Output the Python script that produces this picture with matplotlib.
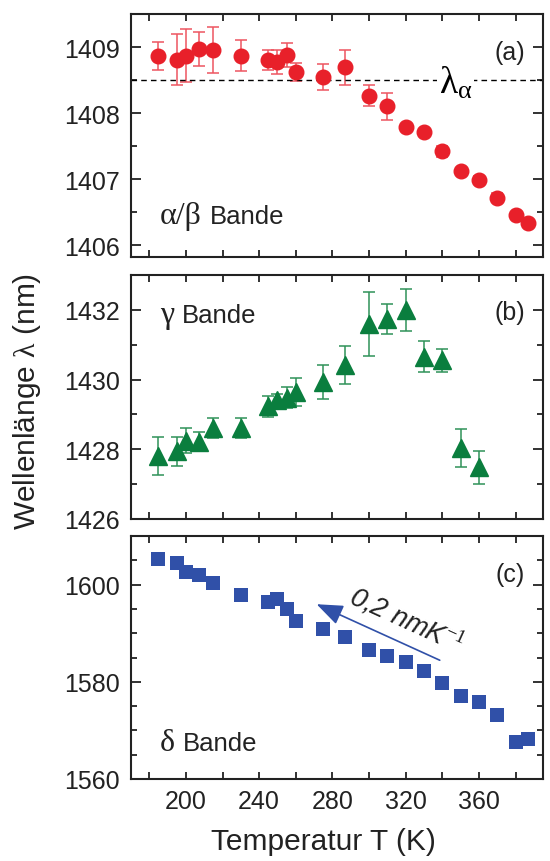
import matplotlib
import matplotlib.pyplot as plt
from matplotlib.ticker import MultipleLocator, FormatStrFormatter
from matplotlib.offsetbox import AnchoredOffsetbox, TextArea, HPacker

plt.rcParams['font.family'] = ['Liberation Sans', 'DejaVu Sans']
plt.rcParams['mathtext.fontset'] = 'custom'
plt.rcParams['mathtext.rm'] = 'Liberation Serif'
plt.rcParams['mathtext.it'] = 'Liberation Sans:italic'
plt.rcParams['mathtext.bf'] = 'Liberation Serif:bold'

# (a) alpha/beta band
T_a = [185, 195, 200, 207, 215, 230, 245, 250, 255, 260, 275, 287,
       300, 310, 320, 330, 340, 350, 360, 370, 380, 387]
lam_a = [1408.86, 1408.81, 1408.87, 1408.97, 1408.96, 1408.87, 1408.80, 1408.77,
         1408.88, 1408.62, 1408.55, 1408.69, 1408.26, 1408.10, 1407.79, 1407.71,
         1407.42, 1407.12, 1406.99, 1406.72, 1406.45, 1406.33]
err_a = [0.21, 0.38, 0.40, 0.26, 0.35, 0.23, 0.15, 0.18, 0.18, 0.14, 0.20, 0.26,
         0.16, 0.20, 0.05, 0.05, 0.08, 0.05, 0.05, 0.07, 0.04, 0.03]
lam_alpha = 1408.5

# (b) gamma band
T_b = [185, 195, 200, 207, 215, 230, 245, 250, 255, 260, 275, 287,
       300, 310, 320, 330, 340, 350, 360]
lam_b = [1427.81, 1427.94, 1428.25, 1428.22, 1428.61, 1428.61, 1429.23, 1429.40,
         1429.48, 1429.65, 1429.94, 1430.41, 1431.60, 1431.74, 1432.00, 1430.66,
         1430.55, 1428.03, 1427.48]
err_b = [0.55, 0.41, 0.35, 0.28, 0.29, 0.29, 0.31, 0.20, 0.30, 0.40, 0.49, 0.54,
         0.91, 0.42, 0.60, 0.45, 0.32, 0.54, 0.47]

# (c) delta band
T_c = [185, 195, 200, 207, 215, 230, 245, 250, 255, 260, 275, 287,
       300, 310, 320, 330, 340, 350, 360, 370, 380, 387]
lam_c = [1605.2, 1604.5, 1602.6, 1601.9, 1600.4, 1597.9, 1596.5, 1597.1,
         1594.9, 1592.6, 1590.8, 1589.2, 1586.6, 1585.3, 1584.1, 1582.3,
         1579.7, 1577.0, 1575.9, 1573.2, 1567.7, 1568.2]

red = '#e8202a'
green = '#0a7e3e'
blue = '#3050a8'
dark = '#222222'


def band_label(ax, greek, x, y):
    # greek letters in a serif face, the word in sans, on one baseline
    box = HPacker(children=[TextArea(greek, textprops=dict(family='Liberation Serif', size=23, color=dark)),
                            TextArea('Bande', textprops=dict(size=18.5, color=dark))],
                  align='baseline', pad=0, sep=6)
    ab = AnchoredOffsetbox(loc='center left', child=box, pad=0, borderpad=0, frameon=False,
                           bbox_to_anchor=(x, y), bbox_transform=ax.transAxes)
    ax.add_artist(ab)


fig = plt.figure(figsize=(5.5, 8.62), dpi=100)
left, width = 131 / 550, 412 / 550
ax_a = fig.add_axes([left, 1 - 258 / 862, width, 243 / 862])
ax_b = fig.add_axes([left, 1 - 520 / 862, width, 244 / 862])
ax_c = fig.add_axes([left, 1 - 780 / 862, width, 243 / 862])

for ax in (ax_a, ax_b, ax_c):
    ax.set_xlim(170, 395)
    ax.xaxis.set_major_locator(MultipleLocator(40))
    ax.xaxis.set_minor_locator(MultipleLocator(20))
    ax.yaxis.set_major_formatter(FormatStrFormatter('%d'))
    ax.tick_params(which='both', direction='in', top=True, right=True,
                   width=1.3, color=dark, labelsize=18, labelcolor=dark)
    ax.tick_params(axis='y', which='major', length=7.5, pad=8)
    ax.tick_params(axis='y', which='minor', length=4.5)
    ax.tick_params(axis='x', which='both', length=5, pad=7)
    for s in ax.spines.values():
        s.set_linewidth(1.5)
        s.set_color(dark)

# panel (a)
ax_a.errorbar(T_a, lam_a, yerr=err_a, fmt='o', color=red, ms=10.5, mec=red,
              ecolor='#ee5560', elinewidth=1.1, capsize=4.5, capthick=1.1)
ax_a.axhline(lam_alpha, color='black', lw=1, ls=(0, (4, 3)))
ax_a.text(338, lam_alpha - 0.03, r'$\mathrm{\lambda_\alpha}$', fontsize=27,
          ha='left', va='center',
          bbox=dict(facecolor='white', edgecolor='none', pad=1))
ax_a.set_ylim(1405.82, 1409.5)
ax_a.yaxis.set_major_locator(MultipleLocator(1))
ax_a.yaxis.set_minor_locator(MultipleLocator(0.5))
band_label(ax_a, 'α/β', 0.07, 0.17)
ax_a.text(0.92, 0.845, '(a)', transform=ax_a.transAxes, fontsize=18,
          ha='center', va='center', color=dark)
ax_a.tick_params(labelbottom=False)

# panel (b)
ax_b.errorbar(T_b, lam_b, yerr=err_b, fmt='^', color=green, ms=13, mec=green,
              ecolor='#2f9258', elinewidth=1.1, capsize=4.5, capthick=1.1)
ax_b.set_ylim(1426, 1433)
ax_b.yaxis.set_major_locator(MultipleLocator(2))
ax_b.yaxis.set_minor_locator(MultipleLocator(1))
band_label(ax_b, 'γ', 0.07, 0.84)
ax_b.text(0.92, 0.85, '(b)', transform=ax_b.transAxes, fontsize=18,
          ha='center', va='center', color=dark)
ax_b.tick_params(labelbottom=False)

# panel (c)
ax_c.plot(T_c, lam_c, 's', color=blue, ms=9.5, mew=0)
ax_c.set_ylim(1560, 1610)
ax_c.yaxis.set_major_locator(MultipleLocator(20))
ax_c.yaxis.set_minor_locator(MultipleLocator(5))
ax_c.annotate('', xy=(270, 1596.2), xytext=(340, 1584.2),
              arrowprops=dict(arrowstyle='-|>,head_length=0.9,head_width=0.35',
                              color=blue, lw=1.2, mutation_scale=18))
ax_c.text(320.5, 1593.0, r'0,2 nmK$^{\mathit{-1}}$', fontsize=19.5, style='italic',
          rotation=-24.5, rotation_mode='anchor', ha='center', va='center',
          color=dark)
band_label(ax_c, 'δ', 0.07, 0.152)
ax_c.text(0.92, 0.845, '(c)', transform=ax_c.transAxes, fontsize=18,
          ha='center', va='center', color=dark)

fig.text(323.7 / 550, 1 - 842 / 862, 'Temperatur T (K)', fontsize=21.5,
         ha='center', va='center', color=dark)
fig.text(27 / 550, 1 - 401 / 862, r'Wellenlänge $\mathrm{\lambda}$ (nm)',
         fontsize=21.5, rotation=90, ha='center', va='center', color=dark)

fig.savefig('out.png', dpi=100)
